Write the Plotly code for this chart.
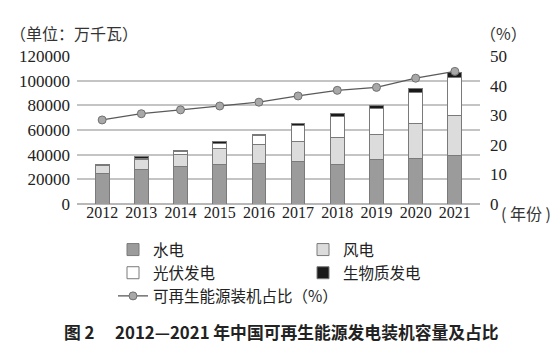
import plotly.graph_objects as go

years = ["2012", "2013", "2014", "2015", "2016", "2017", "2018", "2019", "2020", "2021"]
hydro = [24900, 28000, 30500, 32000, 33200, 34400, 31800, 35800, 37000, 39100]
wind = [6100, 7700, 9700, 13100, 14700, 16400, 21800, 20900, 28200, 32800]
solar = [400, 1600, 2500, 4200, 7600, 13000, 17500, 20500, 25300, 30300]
biomass = [800, 900, 950, 1050, 1250, 1500, 1900, 2600, 3200, 4700]
share_pct = [28.4, 30.5, 31.8, 33.1, 34.4, 36.5, 38.4, 39.4, 42.5, 44.8]

left_ticks = [0, 20000, 40000, 60000, 80000, 100000, 120000]
right_ticks = [0, 10, 20, 30, 40, 50]

W, H = 556, 356
L, R, T, B = 77, 76, 56, 152
pw, ph = W - L - R, H - T - B

def px_x(x):
    return (x - L) / pw

def px_y(y):
    return (H - B - y) / ph

serif = "Liberation Serif, Times New Roman, serif"
cjk = "Noto Sans CJK SC, sans-serif"
outline = "#7a7a7a"

fig = go.Figure()
for name, vals, color in [("水电", hydro, "#9b9b9b"), ("风电", wind, "#dcdcdc"),
                          ("光伏发电", solar, "#ffffff"), ("生物质发电", biomass, "#1a1a1a")]:
    fig.add_trace(go.Bar(x=years, y=vals, name=name, marker=dict(color=color, line=dict(color=outline, width=1)),
                         width=0.35))

fig.add_trace(go.Scatter(x=years, y=share_pct, name="可再生能源装机占比（%）", yaxis="y2", mode="lines+markers",
                         line=dict(color="#5a5a5a", width=1.3),
                         marker=dict(size=8, color="#a8a8a8", line=dict(color="#707070", width=1))))

fig.update_layout(
    width=W, height=H, barmode="stack",
    margin=dict(l=L, r=R, t=T, b=B, pad=0, autoexpand=False),
    paper_bgcolor="white", plot_bgcolor="white",
    font=dict(family=serif, size=16, color="#222"),
    xaxis=dict(showgrid=False, showline=False, ticks="", tickfont=dict(size=16, family=serif),
               ticklabelstandoff=-3),
    yaxis=dict(range=[0, 120000], tickvals=left_ticks, ticktext=[str(v) for v in left_ticks],
               showgrid=True, gridcolor="#c4c4c4", gridwidth=1.5, zeroline=True, zerolinecolor="#b8b8b8",
               zerolinewidth=1.5, tickfont=dict(size=17, family=serif), ticks="", ticklabelstandoff=6),
    yaxis2=dict(range=[0, 50], tickvals=right_ticks, overlaying="y", side="right", showgrid=False,
                zeroline=False, tickfont=dict(size=17, family=serif), ticks="", ticklabelstandoff=9),
    legend=dict(orientation="h", x=px_x(113), y=px_y(233), xanchor="left", yanchor="top",
                entrywidth=145, entrywidthmode="pixels", font=dict(family=cjk, size=15.5, color="#222"),
                traceorder="normal", itemclick=False, tracegroupgap=0, bgcolor="rgba(0,0,0,0)"),
    showlegend=True,
)

fig.add_annotation(text="（单位：万千瓦）", xref="paper", yref="paper", x=px_x(8), y=px_y(33),
                   xanchor="left", yanchor="middle", showarrow=False, font=dict(family=cjk, size=16, color="#333"))
fig.add_annotation(text="（%）", xref="paper", yref="paper", x=px_x(478), y=px_y(33),
                   xanchor="left", yanchor="middle", showarrow=False, font=dict(family=cjk, size=16, color="#333"))
fig.add_annotation(text="( 年份 )", xref="paper", yref="paper", x=px_x(499), y=px_y(213),
                   xanchor="left", yanchor="middle", showarrow=False, font=dict(family=cjk, size=16, color="#333"))
fig.add_annotation(text="<b>图 2　 2012—2021 年中国可再生能源发电装机容量及占比</b>", xref="paper", yref="paper",
                   x=px_x(281), y=px_y(332), xanchor="center", yanchor="middle", showarrow=False,
                   font=dict(family=cjk, size=16.8, color="#222"))

fig.write_html("out.html", post_script="document.body.style.margin='0';",
               config={"displayModeBar": False})
